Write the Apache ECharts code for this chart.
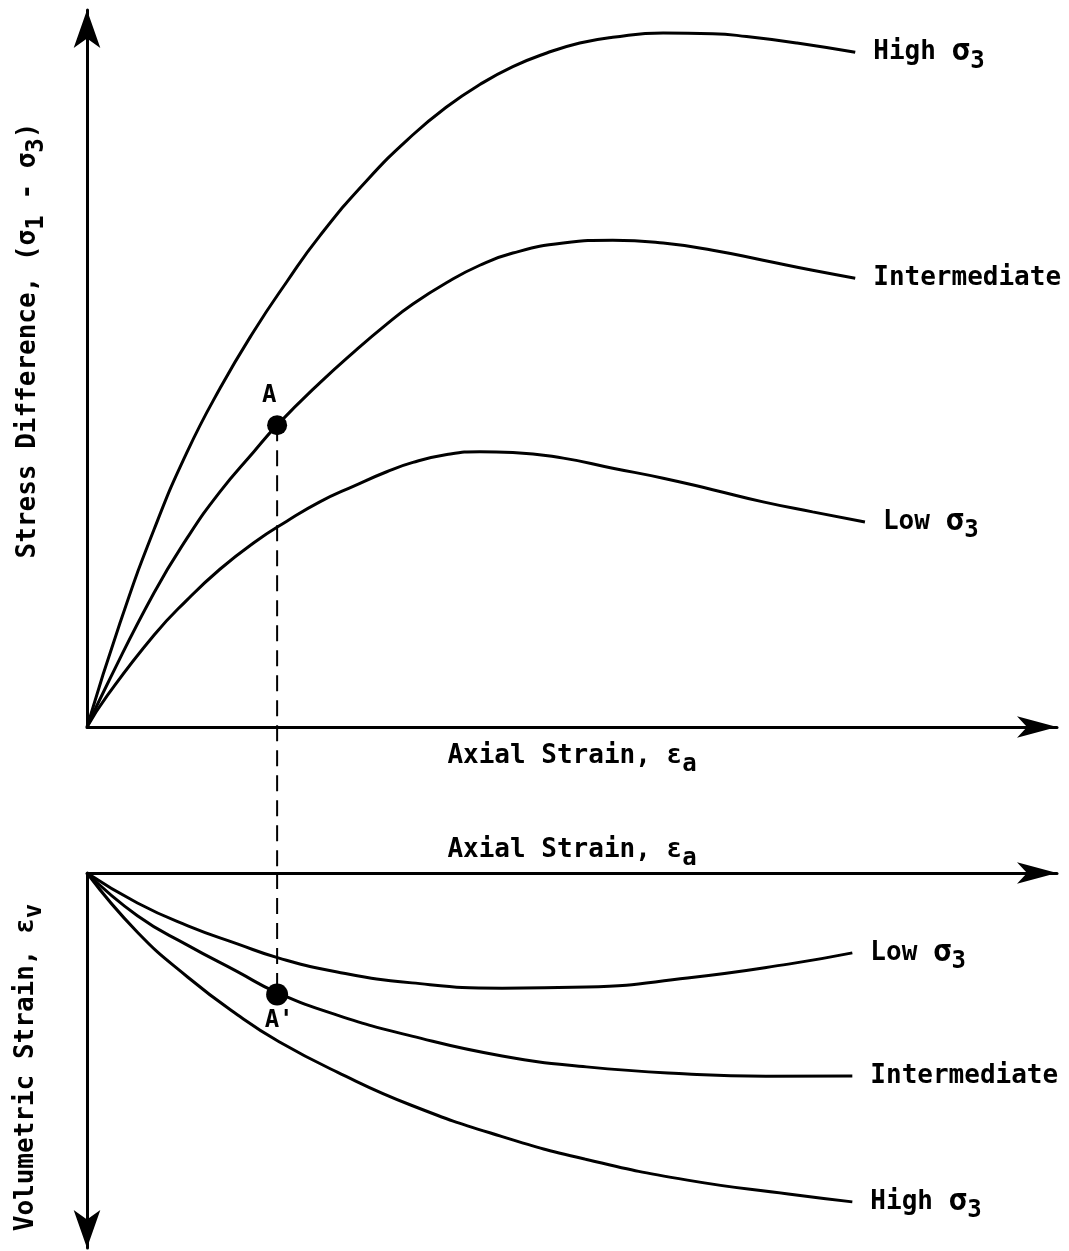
<!DOCTYPE html>
<html>
<head>
<meta charset="utf-8">
<title>Stress difference and volumetric strain vs axial strain</title>
<script src="https://cdn.jsdelivr.net/npm/echarts@6/dist/echarts.min.js"></script>
<style>
  html, body { margin: 0; padding: 0; background: #fff; }
  #chart { width: 1069px; height: 1251px; }
</style>
</head>
<body>
<div id="chart"></div>
<script>
// values, arbitrary units 0-100 on every axis
// [axial strain, stress difference]
const stressHigh = [[0,0],[3.4,14.5],[6.9,27.5],[10.3,38.3],[13.7,47.2],[17.2,55.2],[20.6,62.1],[24,68.5],[28.9,76.3],[33.6,82.6],[37.1,86.5],[40.5,89.6],[43.9,92.1],[47.4,94],[50.8,95.4],[54.2,96.2],[59.4,96.8],[64.5,96.7],[68,96.3],[73.2,95.4],[79.2,94.1]];
const stressMid  = [[0,0],[2.1,6],[6.9,18.7],[10.3,26.3],[13.7,32.8],[17.2,38.4],[19.6,42.1],[24,48],[27.5,52.3],[30.9,56.2],[33.6,59],[37.1,62],[40.5,64.4],[43.9,66.1],[49.1,67.5],[54.2,67.9],[59.4,67.5],[64.5,66.5],[69.7,65.1],[74.8,63.7],[79.2,62.6]];
const stressLow  = [[0,0],[2.1,4.4],[6.9,12.8],[10.3,17.7],[13.7,22],[17.2,25.7],[20.6,28.7],[24,31.4],[27.5,33.6],[30.9,35.6],[33.6,36.9],[37.1,38],[40.5,38.4],[43.9,38.3],[49.1,37.5],[54.2,36.1],[59.4,34.7],[64.5,33.1],[69.7,31.4],[74.8,30],[80.2,28.6]];

// [axial strain, volumetric strain] (compression measured downwards)
const volLow  = [[0,0],[5.2,8],[10.4,14.1],[15.5,18.9],[19.8,22.7],[25.8,26.4],[33.5,29.3],[42.8,30.7],[51.5,30.4],[61.9,28],[72.3,24.3],[78.9,21.3]];
const volMid  = [[0,0],[5.2,11.4],[10.4,19.3],[15.5,26.3],[19.6,31.9],[25.8,37.9],[33.5,43.5],[42.8,48.8],[51.5,51.7],[61.9,53.6],[70,54.2],[78.9,54.1]];
const volHigh = [[0,0],[5.2,15.8],[10.4,27.8],[15.5,37.8],[19.8,45],[25.8,53.1],[33.5,62],[42.8,70.3],[51.5,76.4],[61.9,81.9],[72.3,85.6],[78.9,87.7]];

// point A and its image A'
const pointA = [19.6, 42.1];
const pointA2 = [19.6, 32.4];
const dropTop = [[19.6, 42.1], [19.6, -20.4]];
const dropBottom = [[19.6, 0], [19.6, 32.4]];

const FONT = 'DejaVu Sans Mono';
const INK = '#000';

const rich = {
	n: { fontFamily: FONT, fontSize: 26, fontWeight: 'bold', color: INK },
	g: { fontFamily: FONT, fontSize: 31, fontWeight: 'bold', color: INK },
	s: { fontFamily: FONT, fontSize: 24, fontWeight: 'bold', color: INK, padding: [18, 0, 0, 0] }
};

function curve(data, xi, label) {
	return {
		type: 'line',
		data: data,
		xAxisIndex: xi,
		yAxisIndex: xi,
		smooth: true,
		symbol: 'none',
		silent: true,
		lineStyle: { color: INK, width: 3 },
		endLabel: {
			show: true,
			distance: 18,
			formatter: label,
			rich: rich
		}
	};
}

function axisLine(arrow, flip) {
	return {
		onZero: false,
		symbol: flip ? ['arrow', 'none'] : ['none', 'arrow'],
		symbolSize: arrow,
		lineStyle: { color: INK, width: 3 }
	};
}

const hidden = {
	axisTick: { show: false },
	axisLabel: { show: false },
	splitLine: { show: false }
};

const option = {
	animation: false,
	backgroundColor: '#fff',
	grid: [
		{ left: 87, top: 10, width: 970, height: 717, outerBoundsMode: 'none', containLabel: false },
		{ left: 87, top: 873, width: 970, height: 375, outerBoundsMode: 'none', containLabel: false }
	],
	xAxis: [
		Object.assign({
			type: 'value', gridIndex: 0, min: 0, max: 100,
			axisLine: axisLine([16, 40]),
			name: '{n|Axial Strain, ε}{s|a}',
			nameLocation: 'middle',
			nameGap: 8,
			nameTextStyle: { rich: rich }
		}, hidden),
		Object.assign({
			type: 'value', gridIndex: 1, min: 0, max: 100, position: 'top',
			axisLine: axisLine([16, 40]),
			name: '{n|Axial Strain, ε}{s|a}',
			nameLocation: 'middle',
			nameGap: 2,
			nameTextStyle: { rich: rich }
		}, hidden)
	],
	yAxis: [
		Object.assign({
			type: 'value', gridIndex: 0, min: 0, max: 100,
			axisLine: axisLine([20, 38]),
			name: '{n|Stress Difference, (σ}{s|1}{n| - σ}{s|3}{n|)}',
			nameLocation: 'middle',
			nameRotate: 90,
			nameGap: 38,
			nameTextStyle: { rich: rich, padding: [0, 0, 0, 56] }
		}, hidden),
		Object.assign({
			type: 'value', gridIndex: 1, min: 0, max: 100, inverse: true,
			axisLine: axisLine([20, 38], true),
			name: '{n|Volumetric Strain, ε}{s|v}',
			nameLocation: 'middle',
			nameRotate: 90,
			nameGap: 40,
			nameTextStyle: { rich: rich, padding: [0, 14, 0, 0] }
		}, hidden)
	],
	series: [
		curve(stressHigh, 0, '{n|High }{g|σ}{s|3}'),
		curve(stressMid, 0, '{n|Intermediate}'),
		curve(stressLow, 0, '{n|Low }{g|σ}{s|3}'),
		curve(volLow, 1, '{n|Low }{g|σ}{s|3}'),
		curve(volMid, 1, '{n|Intermediate}'),
		curve(volHigh, 1, '{n|High }{g|σ}{s|3}'),
		{
			type: 'line', data: dropTop, xAxisIndex: 0, yAxisIndex: 0,
			clip: false, symbol: 'none', silent: true,
			lineStyle: { color: INK, width: 2, type: [16, 9] }
		},
		{
			type: 'line', data: dropBottom, xAxisIndex: 1, yAxisIndex: 1,
			symbol: 'none', silent: true,
			lineStyle: { color: INK, width: 2, type: [16, 9] }
		},
		{
			type: 'scatter', data: [pointA], xAxisIndex: 0, yAxisIndex: 0,
			symbolSize: 20, itemStyle: { color: INK, opacity: 1 }, silent: true,
			label: { show: true, formatter: 'A', position: 'top', offset: [-8, -2], fontFamily: FONT, fontWeight: 'bold', fontSize: 24, color: INK }
		},
		{
			type: 'scatter', data: [pointA2], xAxisIndex: 1, yAxisIndex: 1,
			symbolSize: 22, itemStyle: { color: INK, opacity: 1 }, silent: true,
			label: { show: true, formatter: "A'", position: 'bottom', offset: [2, -2], fontFamily: FONT, fontWeight: 'bold', fontSize: 24, color: INK }
		}
	]
};

var myChart = echarts.init(document.getElementById('chart'));
myChart.setOption(option);
</script>
</body>
</html>
